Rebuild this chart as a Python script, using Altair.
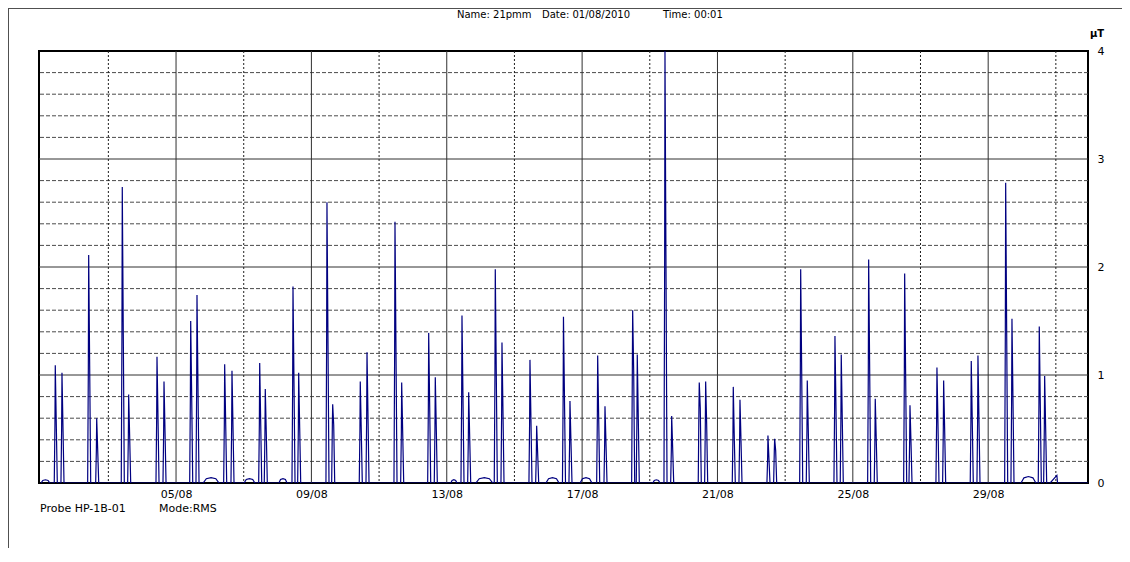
import altair as alt
import pandas as pd

# ---- data (time in days since 01/08/2010 00:00, values in µT) ----
spike_day = [0.431, 0.629, 1.418, 1.655, 2.411, 2.600, 3.437, 3.644, 4.433, 4.619,
             5.437, 5.653, 6.472, 6.637, 7.456, 7.624, 8.460, 8.629, 9.444, 9.643,
             10.470, 10.668, 11.466, 11.661, 12.450, 12.648, 13.434, 13.632, 14.459, 14.657,
             15.449, 15.641, 16.460, 16.676, 17.494, 17.630, 18.449, 18.647, 19.462, 19.651,
             20.467, 20.665, 21.492, 21.690, 22.459, 22.654, 23.472, 23.658, 24.468, 24.663,
             25.532, 25.689, 26.486, 26.684, 27.500, 27.698, 28.517, 28.703, 29.510, 29.669]
spike_peak = [1.09, 1.02, 2.11, 0.60, 2.74, 0.82, 1.17, 0.94, 1.50, 1.74,
              1.10, 1.04, 1.11, 0.87, 1.82, 1.02, 2.60, 0.73, 0.94, 1.21,
              2.42, 0.93, 1.39, 0.98, 1.55, 0.84, 1.98, 1.30, 1.14, 0.53,
              1.54, 0.76, 1.18, 0.71, 1.60, 1.19, 4.00, 0.62, 0.93, 0.94,
              0.89, 0.77, 0.44, 0.41, 1.98, 0.95, 1.36, 1.19, 2.07, 0.78,
              1.94, 0.72, 1.07, 0.95, 1.13, 1.18, 2.78, 1.52, 1.45, 0.99]
spike_shoulder = [0.54, 0.51, 1.06, 0.30, 1.37, 0.42, 0.60, 0.48, 0.78, 0.87,
                  0.55, 0.52, 0.55, 0.46, 0.91, 0.51, 1.31, 0.54, 0.48, 0.61,
                  1.21, 0.46, 0.70, 0.50, 0.78, 0.42, 1.00, 0.65, 0.57, 0.27,
                  0.78, 0.38, 0.60, 0.36, 1.04, 0.60, 2.00, 0.31, 0.69, 0.54,
                  0.42, 0.40, 0.22, 0.30, 1.03, 0.49, 0.70, 0.60, 1.05, 0.40,
                  0.97, 0.38, 0.56, 0.49, 0.57, 0.58, 1.39, 0.77, 0.73, 0.50]

bump_start = [0.01, 4.80, 6.01, 7.04, 12.12, 12.86, 14.93, 15.94, 18.09, 28.97]
bump_end = [0.27, 5.27, 6.33, 7.28, 12.30, 13.36, 15.32, 16.29, 18.30, 29.41]
bump_height = [0.03, 0.05, 0.04, 0.04, 0.03, 0.05, 0.05, 0.05, 0.03, 0.06]

x_labels_days = [4, 8, 12, 16, 20, 24, 28]
x_minor_days = [2, 6, 10, 14, 18, 22, 26, 30]
y_major = [1, 2, 3]
y_minor = [0.2, 0.4, 0.6, 0.8, 1.2, 1.4, 1.6, 1.8, 2.2, 2.4, 2.6, 2.8, 3.2, 3.4, 3.6, 3.8]
y_labels = [0, 1, 2, 3, 4]

# ---- build the line table ----
rows = [(0.0, 0.0)]
for d, p, s in zip(spike_day, spike_peak, spike_shoulder):
    rows += [(d - 0.03, 0.0), (d - 0.01, s), (d, p), (d + 0.03, s), (d + 0.06, 0.0)]
for s0, e0, h in zip(bump_start, bump_end, bump_height):
    w = e0 - s0
    rows += [(s0, 0.0), (s0 + 0.2 * w, 0.8 * h), (s0 + 0.5 * w, h), (e0 - 0.2 * w, 0.8 * h), (e0, 0.0)]
rows += [(29.83, 0.0), (30.03, 0.07), (30.05, 0.0), (30.95, 0.0)]
rows.sort()
line_df = pd.DataFrame(rows, columns=["t", "v"])

W, H = 1049, 432
FONT = "DejaVu Sans"
xs = alt.Scale(domain=[-0.05, 30.95], nice=False, zero=False)
ys = alt.Scale(domain=[0, 4], nice=False)

x_axis = alt.Axis(values=x_labels_days, grid=False, domain=False, ticks=False, title=None,
                  labelFont=FONT, labelFontSize=11, labelColor="#000", labelPadding=5,
                  labelExpr="((datum.value + 1) < 10 ? '0' : '') + (datum.value + 1) + '/08'")
y_axis = alt.Axis(orient="right", values=y_labels, grid=False, domain=False, ticks=False, title=None,
                  labelFont=FONT, labelFontSize=11, labelColor="#000", labelPadding=9,
                  labelAlign="left")

h_minor = alt.Chart(pd.DataFrame({"y": y_minor})).mark_rule(
    color="#4a4a4a", strokeWidth=1, strokeDash=[4, 2]).encode(y=alt.Y("y:Q", scale=ys, axis=y_axis))
h_major = alt.Chart(pd.DataFrame({"y": y_major})).mark_rule(
    color="#303030", strokeWidth=1).encode(y=alt.Y("y:Q", scale=ys, axis=y_axis))
v_minor = alt.Chart(pd.DataFrame({"x": x_minor_days})).mark_rule(
    color="#202020", strokeWidth=1, strokeDash=[2, 2]).encode(x=alt.X("x:Q", scale=xs, axis=x_axis))
v_major = alt.Chart(pd.DataFrame({"x": x_labels_days})).mark_rule(
    color="#303030", strokeWidth=1).encode(x=alt.X("x:Q", scale=xs, axis=x_axis))

line = alt.Chart(line_df).mark_line(color="#000080", strokeWidth=1.2, clip=True).encode(
    x=alt.X("t:Q", scale=xs, axis=x_axis),
    y=alt.Y("v:Q", scale=ys, axis=y_axis),
)

def txt(s, x, y, bold=False, size=11):
    return alt.Chart(pd.DataFrame({"s": [s]})).mark_text(
        font=FONT, fontSize=size, fontWeight="bold" if bold else "normal",
        align="left", baseline="middle", color="#000").encode(
        text="s:N", x=alt.value(x), y=alt.value(y))

texts = [
    txt("Name: 21pmm", 418, -36, size=10),
    txt("Date: 01/08/2010", 503, -36, size=10),
    txt("Time: 00:01", 624, -36, size=10),
    txt("µT", W + 2, -17, bold=True, size=10),
    txt("Probe HP-1B-01", 1, H + 26),
    txt("Mode:RMS", 120, H + 26),
]

frame_left = alt.Chart(pd.DataFrame({"a": [0]})).mark_rule(color="#505050", strokeWidth=1).encode(
    x=alt.value(-30.5), y=alt.value(-43), y2=alt.value(H + 65))
frame_top = alt.Chart(pd.DataFrame({"a": [0]})).mark_rule(color="#505050", strokeWidth=1).encode(
    x=alt.value(-31), x2=alt.value(W + 34), y=alt.value(-42.5))

chart = alt.layer(h_minor, h_major, v_minor, v_major, line, *texts, frame_left, frame_top).properties(
    width=W, height=H,
    autosize=alt.AutoSizeParams(type="none"),
    padding={"left": 31, "top": 43, "right": 34, "bottom": 65},
    background="white",
).configure_view(stroke="#000000", strokeWidth=2)

chart.save("out.html", embed_options={"renderer": "svg", "actions": False})
